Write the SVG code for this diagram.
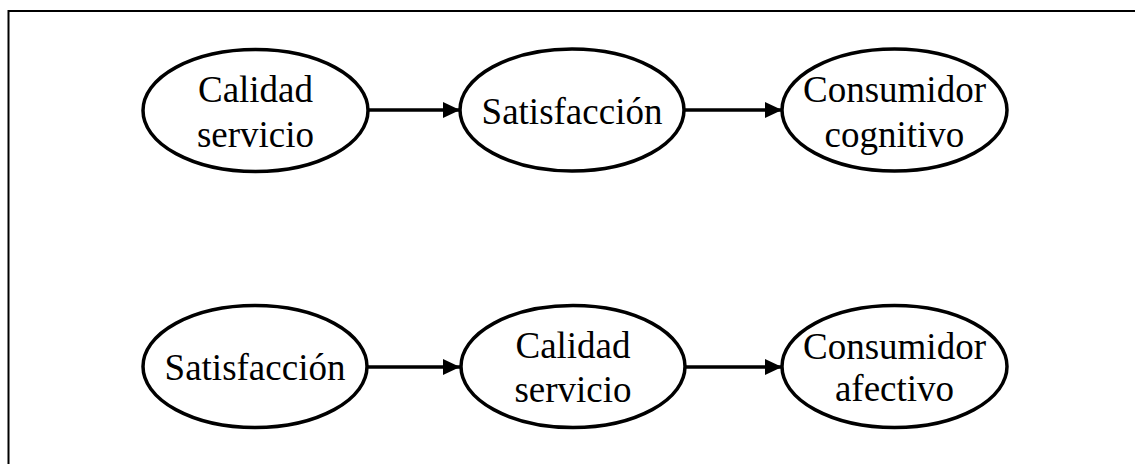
<svg xmlns="http://www.w3.org/2000/svg" width="1135" height="464" viewBox="0 0 1135 464">
<style>
.node ellipse{fill:#fff;stroke:#000;stroke-width:3.5}
text{font-family:"Liberation Serif","Times New Roman",serif;font-size:37px;fill:#000;text-anchor:middle}
.conn line{stroke:#000;stroke-width:3.5}
</style>
<defs>
<marker id="ah" markerUnits="userSpaceOnUse" markerWidth="18" markerHeight="16" refX="17" refY="8" orient="auto">
<path d="M0,0 L17,8 L0,16 z" fill="#000"/>
</marker>
</defs>
<rect x="8.5" y="11" width="1140" height="470" fill="#fff" stroke="#000" stroke-width="2"/>
<g class="conn">
<line x1="368" y1="110" x2="460" y2="110" marker-end="url(#ah)"/>
<line x1="684" y1="110" x2="782" y2="110" marker-end="url(#ah)"/>
<line x1="367" y1="367" x2="460" y2="367" marker-end="url(#ah)"/>
<line x1="685" y1="367" x2="782" y2="367" marker-end="url(#ah)"/>
</g>
<g id="n1" class="node"><ellipse cx="255.5" cy="110.5" rx="112.5" ry="61"/><text x="255.5" y="101.5">Calidad</text><text x="255.5" y="146.5">servicio</text></g>
<g id="n2" class="node"><ellipse cx="572" cy="110" rx="112" ry="61"/><text x="572" y="123.5">Satisfacción</text></g>
<g id="n3" class="node"><ellipse cx="894.5" cy="110" rx="112.5" ry="61"/><text x="894.5" y="102">Consumidor</text><text x="894.5" y="146.5">cognitivo</text></g>
<g id="n4" class="node"><ellipse cx="255" cy="366.5" rx="112" ry="61"/><text x="255" y="380">Satisfacción</text></g>
<g id="n5" class="node"><ellipse cx="573" cy="366.5" rx="112" ry="61"/><text x="573" y="358">Calidad</text><text x="573" y="402">servicio</text></g>
<g id="n6" class="node"><ellipse cx="894.5" cy="366.5" rx="112.5" ry="61"/><text x="894.5" y="359">Consumidor</text><text x="894.5" y="401">afectivo</text></g>
</svg>
